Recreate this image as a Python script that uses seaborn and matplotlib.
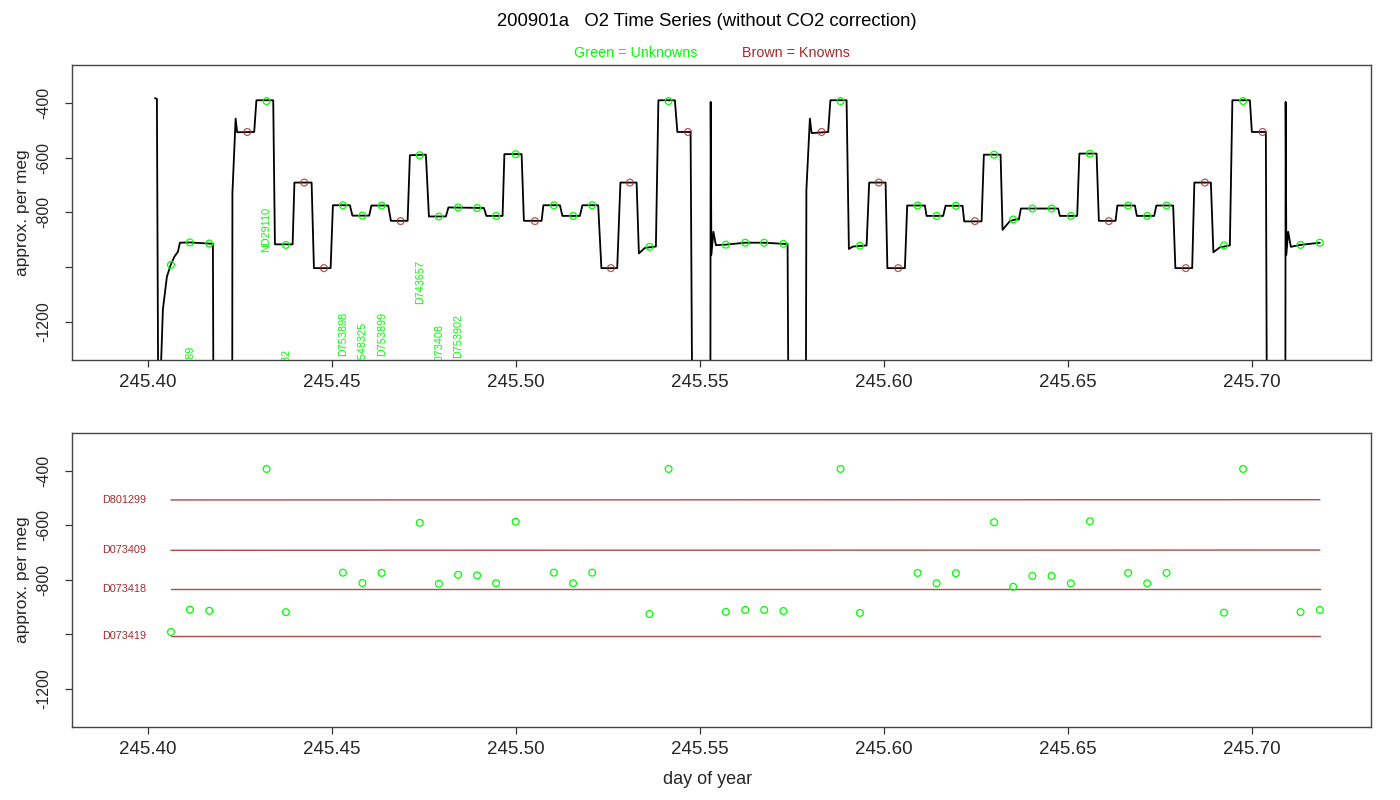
import matplotlib
matplotlib.use("Agg")
import matplotlib.pyplot as plt
import seaborn as sns
import numpy as np

# ---------------- data ----------------
# continuous O2 trace (day of year, per meg); -1500 = off-scale low
trace_day = [
    245.40182, 245.40236, 245.40272, 245.40337, 245.40399, 245.40508, 245.40617, 245.40712,
    245.40807, 245.40861, 245.41133, 245.41658, 245.41758, 245.41772,
    245.42283, 245.42288, 245.42375, 245.42418, 245.42880, 245.42940, 245.43397, 245.43443,
    245.43924, 245.43973, 245.44440, 245.44503, 245.44957, 245.45019, 245.45481, 245.45549,
    245.46005, 245.46065, 245.46522, 245.46595, 245.47049, 245.47111, 245.47546, 245.47628,
    245.48090, 245.48158, 245.49122, 245.49190, 245.49630, 245.49679, 245.50147, 245.50209,
    245.50690, 245.50739, 245.51188, 245.51255, 245.51731, 245.51799, 245.52228, 245.52315,
    245.52745, 245.52832, 245.53272, 245.53334, 245.53497, 245.53796, 245.53864, 245.54312,
    245.54380, 245.54739, 245.54783,
    245.55277, 245.55285, 245.55304, 245.55359, 245.55427, 245.55698, 245.56223, 245.56739,
    245.57261, 245.57375, 245.57397,
    245.57872, 245.57886, 245.57981, 245.58027, 245.58478, 245.58538, 245.58978, 245.59041,
    245.59149, 245.59522, 245.59592, 245.60038, 245.60087, 245.60563, 245.60625, 245.61106,
    245.61152, 245.61603, 245.61668, 245.62130, 245.62174, 245.62647, 245.62709, 245.63163,
    245.63217, 245.63416, 245.63598, 245.63660, 245.63715, 245.64728, 245.64774, 245.65245,
    245.65304, 245.65772, 245.65834, 245.66288, 245.66337, 245.66813, 245.66867, 245.67337,
    245.67397, 245.67853, 245.67913, 245.68370, 245.68429, 245.68878, 245.68946, 245.69122,
    245.69394, 245.69462, 245.69938, 245.69992, 245.70372, 245.70399,
    245.70902, 245.70910, 245.70929, 245.70978, 245.71052, 245.71315, 245.71840,
]
trace_permeg = [
    -382, -385, -1500, -1400, -1155, -1035, -990, -962,
    -944, -911, -910, -914, -915, -1500,
    -1500, -730, -457, -507, -506, -390, -390, -917,
    -917, -691, -691, -1004, -1004, -774, -774, -812,
    -812, -775, -775, -831, -831, -591, -589, -815,
    -815, -782, -784, -813, -813, -587, -587, -831,
    -831, -774, -774, -813, -813, -774, -774, -1004,
    -1004, -691, -691, -950, -930, -925, -390, -390,
    -506, -506, -1500,
    -1500, -396, -955, -871, -920, -918, -911, -911,
    -915, -916, -1500,
    -1500, -718, -457, -510, -506, -390, -390, -934,
    -925, -921, -691, -691, -1004, -1004, -775, -775,
    -813, -813, -776, -776, -833, -833, -589, -589,
    -864, -832, -825, -826, -786, -786, -813, -813,
    -585, -585, -831, -831, -775, -775, -813, -813,
    -775, -775, -1004, -1004, -691, -691, -946, -928,
    -921, -390, -390, -506, -506, -1500,
    -1500, -396, -955, -871, -926, -919, -911,
]

# unknowns (green)
unk_day = [
    245.40617, 245.41133, 245.41658, 245.43217, 245.43742, 245.45291, 245.45821, 245.46345,
    245.47378, 245.47899, 245.48421, 245.48938, 245.49454, 245.49984, 245.51024, 245.51546,
    245.52065, 245.53620, 245.54141, 245.55698, 245.56223, 245.56739, 245.57261, 245.58815,
    245.59340, 245.60908, 245.61424, 245.61948, 245.62986, 245.63505, 245.64027, 245.64549,
    245.65073, 245.65590, 245.66630, 245.67147, 245.67674, 245.69236, 245.69753, 245.71315,
    245.71840,
]
unk_permeg = [
    -992, -910, -914, -393, -919, -774, -812, -775,
    -591, -815, -782, -784, -813, -587, -774, -813,
    -774, -926, -393, -918, -911, -911, -915, -393,
    -922, -775, -813, -776, -589, -826, -786, -786,
    -813, -585, -775, -813, -775, -921, -393, -919,
    -911,
]

# knowns (brown)
kn_day = [
    245.42690, 245.44239, 245.44774, 245.46859, 245.50508, 245.52573, 245.53090, 245.54666,
    245.58299, 245.59856, 245.60380, 245.62465, 245.66106, 245.68198, 245.68715, 245.70283,
]
kn_permeg = [
    -506, -691, -1004, -832, -832, -1004, -691, -506,
    -506, -691, -1004, -832, -832, -1004, -691, -506,
]

# sample labels in top panel
lab_text = ["D753889", "ND29110", "D753932", "D753898", "D548325", "D753899",
            "D743657", "D073408", "D753902"]
lab_day = [245.41133, 245.43217, 245.43742, 245.45291, 245.45821, 245.46345,
           245.47378, 245.47899, 245.48421]
lab_permeg = [-1288, -779, -1300, -1163, -1200, -1163, -976, -1208, -1171]

# reference tank lines (bottom panel)
ref_names = ["D801299", "D073409", "D073418", "D073419"]
ref_start = [-507, -692, -833, -1005]
ref_end = [-506, -691, -833, -1005]
ref_day = [245.40617, 245.71840]

x_ticks = [245.40, 245.45, 245.50, 245.55, 245.60, 245.65, 245.70]
y_ticks = [-400, -600, -800, -1000, -1200]
y_ticklabels = ["-400", "-600", "-800", "", "-1200"]

title = "200901a   O2 Time Series (without CO2 correction)"

# ---------------- style ----------------
sns.set_style("white")
plt.rcParams["font.family"] = ["Liberation Sans", "DejaVu Sans"]

GREEN = "#00ff00"
BROWN = "#a52a2a"

fig = plt.figure(figsize=(14, 8), dpi=100)
ax1 = fig.add_axes([0.0512, 0.55, 0.9281, 0.3691])
ax2 = fig.add_axes([0.0512, 0.0916, 0.9281, 0.3675])

XLIM = (245.3792, 245.7323)
YLIM = (-1340, -260)


def style_axes(ax):
    ax.set_xlim(*XLIM)
    ax.set_ylim(*YLIM)
    ax.set_xticks(x_ticks, labels=[f"{v:.2f}" for v in x_ticks])
    ax.set_yticks(y_ticks, labels=y_ticklabels)
    ax.tick_params(axis="x", direction="out", length=5, width=0.9, pad=5,
                   labelsize=13.5, color="#333333", bottom=True)
    ax.tick_params(axis="y", direction="out", length=5, width=0.9, pad=10,
                   labelsize=11.5, color="#333333", left=True)
    for lab in ax.get_yticklabels():
        lab.set_rotation(90)
        lab.set_va("center")
    for sp in ax.spines.values():
        sp.set_color("#444444")
        sp.set_linewidth(1.0)
        sp.set_visible(True)
    ax.set_xlabel("")
    ax.set_ylabel("")
    ax.grid(False)


# ---- top panel ----
sns.lineplot(x=trace_day, y=trace_permeg, ax=ax1, sort=False, estimator=None,
             color="black", linewidth=1.3)
sns.scatterplot(x=unk_day, y=unk_permeg, ax=ax1, marker="o", s=24,
                facecolor="none", edgecolor=GREEN, linewidth=0.9, zorder=3)
sns.scatterplot(x=kn_day, y=kn_permeg, ax=ax1, marker="o", s=24,
                facecolor="none", edgecolor=BROWN, linewidth=0.9, zorder=3, alpha=0.8)
for t, d, v in zip(lab_text, lab_day, lab_permeg):
    ax1.text(d, v, t, rotation=90, ha="center", va="top", color=GREEN,
             fontsize=7.8, clip_on=True)
style_axes(ax1)

# ---- bottom panel ----
for name, v0, v1 in zip(ref_names, ref_start, ref_end):
    sns.lineplot(x=ref_day, y=[v0, v1], ax=ax2, sort=False, estimator=None,
                 color=BROWN, linewidth=1.0, alpha=0.85)
    ax2.text(245.3874, (v0 + v1) / 2, name, ha="left", va="center",
             color=BROWN, fontsize=7.8)
sns.scatterplot(x=unk_day, y=unk_permeg, ax=ax2, marker="o", s=24,
                facecolor="none", edgecolor=GREEN, linewidth=0.9, zorder=3)
style_axes(ax2)

# ---- figure texts ----
fig.text(0.505, 0.9725, title, ha="center", va="center", fontsize=13.3, color="black")
fig.text(0.4543, 0.9337, "Green = Unknowns", ha="center", va="center",
         fontsize=10.3, color=GREEN)
fig.text(0.5686, 0.9337, "Brown = Knowns", ha="center", va="center",
         fontsize=10.3, color=BROWN)
fig.text(0.0164, 0.7346, "approx. per meg", rotation=90, ha="center", va="center",
         fontsize=12.5)
fig.text(0.0164, 0.2754, "approx. per meg", rotation=90, ha="center", va="center",
         fontsize=12.5)
fig.text(0.5054, 0.02625, "day of year", ha="center", va="center", fontsize=13)

fig.savefig("out.png", dpi=100)
